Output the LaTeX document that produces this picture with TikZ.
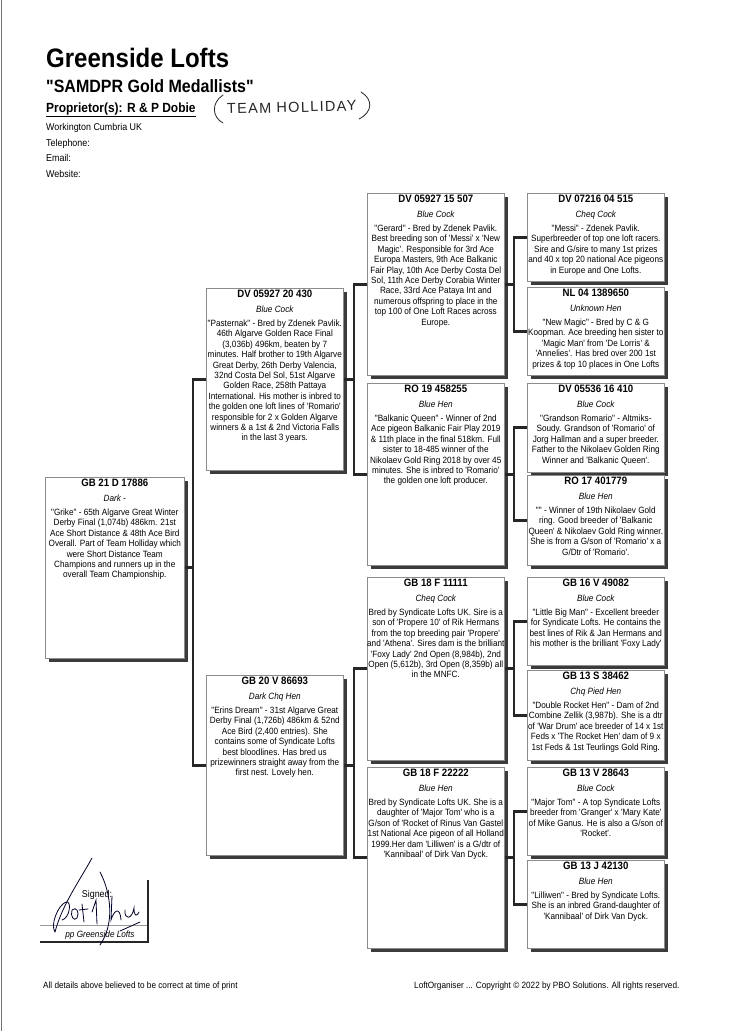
\documentclass[tikz,border=0pt]{standalone}
\usepackage{fontspec}
\setmainfont{Liberation Sans}[FakeStretch=0.9, Ligatures=TeXOff]
\newfontfamily\handfont{Liberation Sans}[LetterSpace=9, Ligatures=TeXOff]
\usetikzlibrary{shadows}
\tikzset{
  pbox/.style={draw=black!45, line width=0.6pt, fill=white, inner sep=0pt, anchor=north west,
    drop shadow={shadow xshift=3.5pt, shadow yshift=-3.5pt, fill=black!85, opacity=0.9}},
  headtxt/.style={anchor=base, inner sep=0pt, font=\bfseries\fontsize{10.7pt}{12pt}\selectfont},
  subtxt/.style={anchor=base, inner sep=0pt, font=\itshape\fontsize{9.1pt}{10pt}\selectfont},
  bodytxt/.style={anchor=base, inner sep=0pt, font=\fontsize{9.1pt}{10.4pt}\selectfont},
  brk/.style={line width=2.8pt, draw=black!85, line join=miter},
  hdr/.style={anchor=base west, inner sep=0pt},
  sig/.style={draw=black!85!blue, line width=0.8pt, line cap=round},
}
\newcommand\pedbox[8]{%
  \node[pbox, minimum width=#4pt, minimum height=#5pt] (#1) at (#2,#3) {};
  \node[headtxt] (#1h) at ([yshift=-9.5pt]#1.north) {#6};
  \node[subtxt] (#1s) at ([yshift=-24pt]#1.north) {#7};
  \node[bodytxt] (#1b) at ([yshift=-38.5pt]#1.north) {\parbox[t]{200pt}{\centering #8}};
}
\begin{document}
\begin{tikzpicture}[x=1pt,y=-1pt]
\useasboundingbox (0,0) rectangle (750,1031);
\fill[white] (0,0) rectangle (750,1031);
\draw[black!55, line width=1.2pt] (1.5,0) -- (1.5,1031);

% header
\node[hdr, font=\bfseries\fontsize{26.7pt}{30pt}\selectfont] (title) at (46,67) {Greenside Lofts};
\node[hdr, font=\bfseries\fontsize{17.8pt}{20pt}\selectfont] (subtitle) at (46,92) {"SAMDPR Gold Medallists"};
\node[hdr, font=\bfseries\fontsize{13.3pt}{15pt}\selectfont] (prop) at (46,112) {\underline{Proprietor(s): R \& P Dobie}};
\node[hdr, font=\fontsize{9.9pt}{11pt}\selectfont] (addr) at (46,130) {Workington Cumbria UK};
\node[hdr, font=\fontsize{9.9pt}{11pt}\selectfont] (tel) at (46,146) {Telephone:};
\node[hdr, font=\fontsize{9.9pt}{11pt}\selectfont] (mail) at (46,161) {Email:};
\node[hdr, font=\fontsize{9.9pt}{11pt}\selectfont] (web) at (46,177) {Website:};

% handwritten note
\node[anchor=base west, inner sep=0pt, rotate=1.5, font=\handfont\fontsize{14.5pt}{16pt}\selectfont, text=black!85] (team) at (227,114) {TEAM HOLLIDAY};
\draw[sig, draw=black!85] (223,95) .. controls (211,103) and (212,117) .. (223,123);
\draw[sig, draw=black!85] (361,92) .. controls (373,99) and (373,112) .. (359,119);

% pedigree boxes
\pedbox{g1}{45}{477}{139}{181}{GB 21 D 17886}{Dark -}{"Grike" - 65th Algarve Great Winter\\Derby Final (1,074b) 486km. 21st\\Ace Short Distance \& 48th Ace Bird\\Overall. Part of Team Holliday which\\were Short Distance Team\\Champions and runners up in the\\overall Team Championship.}

\pedbox{g2a}{206}{288}{137}{182}{DV 05927 20 430}{Blue Cock}{"Pasternak" - Bred by Zdenek Pavlik.\\46th Algarve Golden Race Final\\(3,036b) 496km, beaten by 7\\minutes. Half brother to 19th Algarve\\Great Derby, 26th Derby Valencia,\\32nd Costa Del Sol, 51st Algarve\\Golden Race, 258th Pattaya\\International. His mother is inbred to\\the golden one loft lines of 'Romario'\\responsible for 2 x Golden Algarve\\winners \& a 1st \& 2nd Victoria Falls\\in the last 3 years.}

\pedbox{g2b}{206}{675}{137}{180}{GB 20 V 86693}{Dark Chq Hen}{"Erins Dream" - 31st Algarve Great\\Derby Final (1,726b) 486km \& 52nd\\Ace Bird (2,400 entries). She\\contains some of Syndicate Lofts\\best bloodlines. Has bred us\\prizewinners straight away from the\\first nest. Lovely hen.}

\pedbox{g3a}{367}{193}{137}{182}{DV 05927 15 507}{Blue Cock}{"Gerard" - Bred by Zdenek Pavlik.\\Best breeding son of 'Messi' x 'New\\Magic'. Responsible for 3rd Ace\\Europa Masters, 9th Ace Balkanic\\Fair Play, 10th Ace Derby Costa Del\\Sol, 11th Ace Derby Corabia Winter\\Race, 33rd Ace Pataya Int and\\numerous offspring to place in the\\top 100 of One Loft Races across\\Europe.}

\pedbox{g3b}{367}{383}{137}{182}{RO 19 458255}{Blue Hen}{"Balkanic Queen" - Winner of 2nd\\Ace pigeon Balkanic Fair Play 2019\\\& 11th place in the final 518km. Full\\sister to 18-485 winner of the\\Nikolaev Gold Ring 2018 by over 45\\minutes. She is inbred to 'Romario'\\the golden one loft producer.}

\pedbox{g3c}{367}{577}{137}{183}{GB 18 F 11111}{Cheq Cock}{Bred by Syndicate Lofts UK. Sire is a\\son of 'Propere 10' of Rik Hermans\\from the top breeding pair 'Propere'\\and 'Athena'. Sires dam is the brilliant\\'Foxy Lady' 2nd Open (8,984b), 2nd\\Open (5,612b), 3rd Open (8,359b) all\\in the MNFC.}

\pedbox{g3d}{367}{767}{137}{181}{GB 18 F 22222}{Blue Hen}{Bred by Syndicate Lofts UK. She is a\\daughter of 'Major Tom' who is a\\G/son of 'Rocket of Rinus Van Gastel\\1st National Ace pigeon of all Holland\\1999.Her dam 'Lilliwen' is a G/dtr of\\'Kannibaal' of Dirk Van Dyck.}

\pedbox{g4a}{527}{193}{137}{88}{DV 07216 04 515}{Cheq Cock}{"Messi" - Zdenek Pavlik.\\Superbreeder of top one loft racers.\\Sire and G/sire to many 1st prizes\\and 40 x top 20 national Ace pigeons\\in Europe and One Lofts.}

\pedbox{g4b}{527}{287}{137}{88}{NL 04 1389650}{Unknown Hen}{"New Magic" - Bred by C \& G\\Koopman. Ace breeding hen sister to\\'Magic Man' from 'De Lorris' \&\\'Annelies'. Has bred over 200 1st\\prizes \& top 10 places in One Lofts}

\pedbox{g4c}{527}{383}{137}{89}{DV 05536 16 410}{Blue Cock}{"Grandson Romario" - Altmiks-\\Soudy. Grandson of 'Romario' of\\Jorg Hallman and a super breeder.\\Father to the Nikolaev Golden Ring\\Winner and 'Balkanic Queen'.}

\pedbox{g4d}{527}{475}{137}{90}{RO 17 401779}{Blue Hen}{"" - Winner of 19th Nikolaev Gold\\ring. Good breeder of 'Balkanic\\Queen' \& Nikolaev Gold Ring winner.\\She is from a G/son of 'Romario' x a\\G/Dtr of 'Romario'.}

\pedbox{g4e}{527}{577}{137}{88}{GB 16 V 49082}{Blue Cock}{"Little Big Man" - Excellent breeder\\for Syndicate Lofts. He contains the\\best lines of Rik \& Jan Hermans and\\his mother is the brilliant 'Foxy Lady'}

\pedbox{g4f}{527}{670}{137}{90}{GB 13 S 38462}{Chq Pied Hen}{"Double Rocket Hen" - Dam of 2nd\\Combine Zellik (3,987b). She is a dtr\\of 'War Drum' ace breeder of 14 x 1st\\Feds x 'The Rocket Hen' dam of 9 x\\1st Feds \& 1st Teurlings Gold Ring.}

\pedbox{g4g}{527}{767}{137}{88}{GB 13 V 28643}{Blue Cock}{"Major Tom" - A top Syndicate Lofts\\breeder from 'Granger' x 'Mary Kate'\\of Mike Ganus. He is also a G/son of\\'Rocket'.}

\pedbox{g4h}{527}{860}{137}{88}{GB 13 J 42130}{Blue Hen}{"Lilliwen" - Bred by Syndicate Lofts.\\She is an inbred Grand-daughter of\\'Kannibaal' of Dirk Van Dyck.}

% bracket columns
\coordinate (j1) at (193,0);
\coordinate (j2) at (354,0);
\coordinate (j3) at (514,0);

\draw[brk] (g2a.west) -- (g2a.west -| j1) -- (g2b.west -| j1) -- (g2b.west);
\draw[brk] (g1.east) -- (g1.east -| j1);

\draw[brk] (g3a.west) -- (g3a.west -| j2) -- (g3b.west -| j2) -- (g3b.west);
\draw[brk] (g2a.east) -- (g2a.east -| j2);
\draw[brk] (g3c.west) -- (g3c.west -| j2) -- (g3d.west -| j2) -- (g3d.west);
\draw[brk] (g2b.east) -- (g2b.east -| j2);

\draw[brk] (g4a.west) -- (g4a.west -| j3) -- (g4b.west -| j3) -- (g4b.west);
\draw[brk] (g3a.east) -- (g3a.east -| j3);
\draw[brk] (g4c.west) -- (g4c.west -| j3) -- (g4d.west -| j3) -- (g4d.west);
\draw[brk] (g3b.east) -- (g3b.east -| j3);
\draw[brk] (g4e.west) -- (g4e.west -| j3) -- (g4f.west -| j3) -- (g4f.west);
\draw[brk] (g3c.east) -- (g3c.east -| j3);
\draw[brk] (g4g.west) -- (g4g.west -| j3) -- (g4h.west -| j3) -- (g4h.west);
\draw[brk] (g3d.east) -- (g3d.east -| j3);

% signature block
\draw[black!40, line width=0.5pt] (40,925) -- (147,925);
\draw[black!85, line width=2.5pt] (148,880) -- (148,942) -- (40,942);
\node[anchor=base, inner sep=0pt, font=\fontsize{9.9pt}{11pt}\selectfont] (signed) at (97,897) {Signed:};
\node[anchor=base, inner sep=0pt, font=\itshape\fontsize{9.1pt}{10pt}\selectfont] (pp) at (100,937) {pp Greenside Lofts};
\draw[sig] (92,858) .. controls (80,880) and (62,905) .. (55,932);
\draw[sig] (55,932) .. controls (50,925) and (58,905) .. (66,902) .. controls (72,900) and (70,918) .. (62,920);
\draw[sig] (72,910) .. controls (76,906) and (80,912) .. (77,918) .. controls (74,922) and (70,916) .. (72,910);
\draw[sig] (82,904) -- (84,922) (79,910) -- (88,909);
\draw[sig] (92,912) -- (96,900) -- (97,924);
\draw[sig] (100,872) .. controls (112,895) and (114,925) .. (100,945);
\draw[sig] (112,896) -- (111,920) .. controls (114,910) and (120,906) .. (121,920);
\draw[sig] (125,910) .. controls (124,920) and (132,920) .. (134,908) .. controls (134,915) and (136,918) .. (139,912);
\draw[sig] (120,931) -- (140,922);

% footer
\node[hdr, font=\fontsize{9.1pt}{10pt}\selectfont] (foot1) at (43,988) {All details above believed to be correct at time of print};
\node[hdr, font=\fontsize{9.1pt}{10pt}\selectfont] (foot2) at (414,988) {LoftOrganiser ... Copyright © 2022 by PBO Solutions. All rights reserved.};
\end{tikzpicture}
\end{document}
